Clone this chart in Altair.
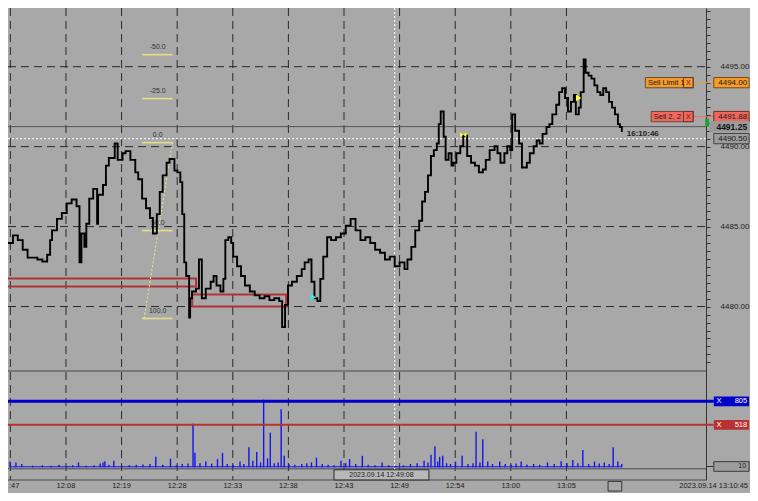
import altair as alt
import pandas as pd

# ---------------- data ----------------
tick_index = [0, 20, 40, 60, 80, 100, 120, 140, 160, 180, 200]
tick_labels = [":47", "12:08", "12:19", "12:28", "12:33", "12:38",
               "12:43", "12:49", "12:54", "13:00", "13:05"]

bar_index = [-0.85, 0.92, 2.68, 4.44, 6.20, 7.96, 9.72, 11.48, 13.24, 14.30,
             15.00, 16.76, 18.52, 20.28, 22.04, 23.80, 24.86, 25.56, 26.62, 27.32,
             28.38, 29.79, 31.20, 31.55, 33.31, 34.37, 35.42, 37.54, 38.59, 40.35,
             41.41, 43.17, 44.93, 45.99, 47.39, 48.80, 50.21, 51.27, 52.68, 53.73,
             54.79, 56.20, 57.25, 59.01, 60.07, 61.13, 61.83, 62.54, 63.24, 64.30,
             64.65, 65.35, 66.76, 67.82, 68.87, 70.28, 72.04, 73.10, 74.15, 75.56,
             76.62, 77.32, 78.38, 79.44, 80.14, 81.55, 82.96, 84.37, 86.13, 87.89,
             89.65, 91.41, 93.17, 94.93, 96.69, 97.75, 98.80, 99.86, 101.27, 103.03,
             104.79, 105.85, 107.25, 108.31, 109.37, 110.42, 111.48, 112.54, 113.94, 115.35,
             117.11, 118.87, 120.63, 122.39, 124.15, 125.92, 127.68, 129.44, 131.20, 132.96,
             134.72, 136.48, 138.24, 140.00, 141.76, 142.82, 144.23, 145.63, 147.04, 148.10,
             149.15, 150.21, 151.27, 152.32, 153.38, 154.08, 154.79, 155.85, 156.55, 157.61,
             158.66, 159.37, 160.42, 161.83, 162.89, 164.30, 165.70, 167.11, 168.52, 169.93,
             170.99, 172.39, 174.15, 175.21, 176.27, 177.68, 178.73, 179.79, 180.49, 181.55,
             182.96, 184.01, 185.77, 186.83, 188.24, 189.30, 190.35, 191.41, 192.82, 193.87,
             194.93, 196.34, 197.39, 198.45, 199.51, 200.56, 201.62, 202.68, 203.38, 204.44,
             205.14, 206.20, 206.90, 207.96, 209.01, 210.07, 211.13, 212.18, 213.24, 214.30,
             215.35, 216.41, 217.46, 218.52, 219.23, 219.93]
price = [4483.97, 4484.45, 4484.15, 4483.55, 4483.06, 4483.06, 4482.94, 4482.82, 4483.24, 4484.15,
         4484.76, 4485.48, 4485.85, 4486.45, 4486.69, 4486.27, 4482.76, 4484.57, 4483.73, 4485.18,
         4486.75, 4487.36, 4485.18, 4486.99, 4487.60, 4488.81, 4489.29, 4490.20, 4489.17, 4489.59,
         4489.72, 4489.17, 4488.39, 4487.96, 4486.75, 4486.15, 4485.54, 4484.57, 4485.78, 4487.17,
         4488.20, 4488.99, 4489.23, 4488.51, 4488.39, 4487.78, 4485.78, 4482.76, 4481.91, 4479.31,
         4480.52, 4480.94, 4481.12, 4482.94, 4480.52, 4481.12, 4481.55, 4481.91, 4481.31, 4480.94,
         4481.73, 4484.15, 4484.33, 4483.97, 4483.12, 4482.52, 4481.91, 4481.31, 4480.94, 4480.70,
         4480.52, 4480.64, 4480.40, 4480.52, 4480.34, 4478.71, 4480.10, 4481.31, 4481.55, 4481.91,
         4482.34, 4482.76, 4482.94, 4481.55, 4480.52, 4480.34, 4481.73, 4483.12, 4484.33, 4484.15,
         4484.33, 4484.57, 4485.06, 4485.48, 4484.76, 4484.15, 4484.33, 4483.97, 4483.55, 4483.36,
         4482.94, 4483.12, 4482.52, 4482.76, 4482.34, 4482.94, 4483.73, 4484.76, 4485.36, 4486.57,
         4487.17, 4488.20, 4489.41, 4489.78, 4490.20, 4491.41, 4492.20, 4490.62, 4489.17, 4489.59,
         4488.81, 4488.99, 4489.59, 4490.02, 4490.68, 4489.41, 4488.99, 4488.81, 4488.39, 4488.57,
         4489.17, 4489.78, 4490.02, 4489.59, 4488.99, 4489.59, 4490.02, 4489.78, 4492.02, 4490.99,
         4490.20, 4488.69, 4488.99, 4489.59, 4490.02, 4490.38, 4490.20, 4490.80, 4491.23, 4491.41,
         4492.02, 4492.62, 4493.41, 4493.65, 4493.04, 4492.20, 4492.80, 4493.23, 4492.02, 4492.44,
         4493.41, 4495.46, 4494.62, 4494.44, 4494.25, 4493.83, 4493.41, 4493.23, 4493.65, 4493.41,
         4492.80, 4492.44, 4492.02, 4491.41, 4491.23, 4490.92]

vol_index = [-0.1, 2.0, 4.1, 8.0, 11.5, 14.6, 17.5, 20.3, 22.4, 24.5,
             27.3, 30.1, 32.3, 33.3, 34.0, 35.4, 37.2, 40.0, 42.8, 45.3,
             47.7, 50.2, 52.3, 54.8, 57.6, 59.7, 61.8, 63.9, 65.7, 66.4,
             68.2, 70.3, 72.4, 74.5, 76.3, 78.0, 80.1, 82.6, 84.0, 85.8,
             87.2, 88.6, 90.0, 91.1, 92.5, 93.5, 94.9, 96.3, 97.4, 98.5,
             100.2, 102.3, 104.8, 106.6, 108.3, 110.1, 112.2, 114.3, 116.4, 118.9,
             120.6, 122.0, 124.2, 126.6, 128.7, 131.2, 133.7, 136.1, 138.6, 141.4,
             143.9, 146.3, 148.8, 150.2, 151.3, 152.7, 153.7, 154.4, 155.5, 156.9,
             158.3, 160.1, 162.5, 164.6, 166.4, 167.5, 168.9, 169.9, 171.7, 173.4,
             176.0, 178.0, 180.1, 181.9, 183.7, 185.8, 188.2, 190.4, 193.2, 195.6,
             198.1, 200.2, 202.3, 204.1, 205.9, 208.0, 210.1, 211.8, 213.6, 215.4,
             216.8, 218.5, 219.9]
vol_value = [70, 60, 40, 20, 25, 20, 30, 15, 25, 60,
             20, 25, 45, 60, 75, 30, 80, 20, 25, 30,
             35, 40, 128, 30, 105, 25, 40, 45, 530, 176,
             50, 70, 45, 100, 176, 40, 30, 70, 40, 246,
             80, 188, 60, 825, 110, 423, 50, 60, 707, 140,
             40, 30, 40, 50, 60, 117, 40, 30, 25, 80,
             50, 100, 40, 140, 30, 25, 60, 25, 20, 25,
             40, 50, 80, 60, 152, 258, 70, 128, 140, 50,
             40, 70, 140, 40, 50, 435, 60, 341, 70, 40,
             70, 40, 30, 45, 70, 35, 40, 30, 60, 40,
             75, 50, 90, 50, 211, 40, 70, 45, 60, 40,
             246, 70, 40]
vol_floor = 12  # thin continuous band of tiny volumes along the baseline

grid_prices = [4480, 4485, 4490, 4495]

fib_labels = ["-50.0", "-25.0", "0.0", "50.0", "100.0"]
fib_prices = [4495.75, 4493.00, 4490.25, 4484.75, 4479.25]
fib_diag_index = [58.3, 48.1]
fib_diag_price = [4490.25, 4479.25]

zone_i0 = [-3.0, 65.4]
zone_i1 = [66.8, 99.2]
zone_lo = [4481.25, 4480.00]
zone_hi = [4481.75, 4480.75]

order_labels = ["Sell Limit  1", "Sell  2,  2"]
order_prices = [4494.00, 4491.88]
order_fill = ["#f59b2c", "#f2675c"]
order_left = [228.4, 230.5]

box_texts = ["4494.00", "4491.88", "4491.25", "4490.50"]
box_prices = [4494.00, 4491.88, 4491.25, 4490.50]
box_fill = ["#f59b2c", "#f2675c", "#9a9a9a", "#9c9c9c"]
box_stroke = ["#7a4a10", "#7a2a20", "#9a9a9a", "#444444"]
box_left = [253.0, 253.0, 251.6, 253.0]
box_weight = ["normal", "normal", "bold", "normal"]

last_price = 4491.25
bid_price = 4490.50
last_time = "16:10:46"
cross_index = 138.2

marker_index = [162.9, 204.4, 109.0]
marker_price = [4490.74, 4493.04, 4480.58]
marker_color = ["#ffff33", "#ffff33", "#33e6e6"]
marker_shape = ["M-1,-0.8L1,0.8L1,-0.8L-1,0.8Z", "triangle-right", "triangle-right"]

vol_levels = [805, 518]
vol_level_colors = ["#0000cc", "#b83232"]

# ---------------- layout ----------------
FX = 742 / 758
FY = 485 / 501
W, H = 698, 472


def px(v):
    return v * FX


def py(v):
    return v * FY


XS = alt.Scale(domain=[-0.85, 250.2], nice=False, zero=False)
PS = alt.Scale(domain=[4469.15, 4498.67], nice=False, zero=False)
VS = alt.Scale(domain=[-155, 5604], nice=False, zero=False)


def xq(f="i"):
    return alt.X(f + ":Q", scale=XS, axis=None)


def yp(f="p"):
    return alt.Y(f + ":Q", scale=PS, axis=None)


def yv(f="v"):
    return alt.Y(f + ":Q", scale=VS, axis=None)


df_price = pd.DataFrame({"i": bar_index, "p": price})
df_vol = pd.DataFrame({"i": vol_index, "v": vol_value})
df_grid = pd.DataFrame({"p": grid_prices})
df_ticks = pd.DataFrame({"i": tick_index, "t": tick_labels})

layers = []

# vertical dashed time grid
layers.append(alt.Chart(df_ticks).mark_rule(color="#2a2a2a", strokeDash=[8, 5], strokeWidth=1).encode(
    x=xq(), y=alt.value(0), y2=alt.value(H)))

# horizontal dashed price grid
layers.append(alt.Chart(df_grid).mark_rule(color="#2a2a2a", strokeDash=[8, 5], strokeWidth=1).encode(
    y=yp(), x=alt.value(0), x2=alt.value(W)))

# panel separators and bottom axis line
sep = pd.DataFrame({"y": [py(375), py(476), H]})
layers.append(alt.Chart(sep).mark_rule(color="#4a4a4a", strokeWidth=1).encode(
    y=alt.Y("y:Q", scale=None, axis=None), x=alt.value(0), x2=alt.value(W)))

# time labels (the first one is cut by the left edge in the original, only ":47" shows)
layers.append(alt.Chart(df_ticks.iloc[1:]).mark_text(fontSize=7.5, color="#222222", baseline="middle").encode(
    x=xq(), y=alt.value(py(494)), text="t:N"))
layers.append(alt.Chart(df_ticks.iloc[:1]).mark_text(fontSize=7.5, color="#222222", baseline="middle",
                                                      align="left").encode(
    x=alt.value(1), y=alt.value(py(494)), text="t:N"))

# red zones
df_zone = pd.DataFrame({"i0": zone_i0, "i1": zone_i1, "lo": zone_lo, "hi": zone_hi})
layers.append(alt.Chart(df_zone).mark_rect(fillOpacity=0, stroke="#b03434", strokeWidth=2, clip=True).encode(
    x=xq("i0"), x2="i1:Q", y=yp("lo"), y2="hi:Q"))

# fibonacci tool
df_fib = pd.DataFrame({"p": fib_prices, "t": fib_labels, "i0": 47.4, "i1": 58.3, "ic": 53.0})
layers.append(alt.Chart(df_fib).mark_rule(color="#e4df86", strokeWidth=1.6).encode(
    x=xq("i0"), x2="i1:Q", y=yp()))
layers.append(alt.Chart(df_fib).mark_text(fontSize=7, color="#333333", dy=-5, baseline="bottom").encode(
    x=xq("ic"), y=yp(), text="t:N"))
df_diag = pd.DataFrame({"i": fib_diag_index, "p": fib_diag_price})
layers.append(alt.Chart(df_diag).mark_line(color="#eeea90", strokeDash=[2, 2], strokeWidth=1).encode(
    x=xq(), y=yp()))

# last price line and bid dotted line, crosshair
df_last = pd.DataFrame({"p": [last_price]})
layers.append(alt.Chart(df_last).mark_rule(color="#555555", strokeWidth=1).encode(
    y=yp(), x=alt.value(0), x2=alt.value(W)))
df_bid = pd.DataFrame({"p": [bid_price]})
layers.append(alt.Chart(df_bid).mark_rule(color="#f2f2f2", strokeWidth=1.2, strokeDash=[2, 2]).encode(
    y=yp(), x=alt.value(0), x2=alt.value(W)))
df_cross = pd.DataFrame({"i": [cross_index]})
layers.append(alt.Chart(df_cross).mark_rule(color="#f2f2f2", strokeWidth=1.2, strokeDash=[2, 2]).encode(
    x=xq(), y=alt.value(0), y2=alt.value(H)))

# price line with right price axis
price_ticks = [4476.5 + 0.5 * k for k in range(45)]
layers.append(alt.Chart(df_price).mark_line(interpolate="step-after", color="black", strokeWidth=1.9).encode(
    x=xq(),
    y=alt.Y("p:Q", scale=PS, axis=alt.Axis(
        orient="right", values=price_ticks,
        labelExpr="datum.value % 5 == 0 ? format(datum.value, '.2f') : ''",
        tickSize=4, tickColor="#333333", domainColor="#333333", labelAlign="right", labelPadding=39,
        labelFontSize=8, labelColor="#222222", grid=False, title=None, labelFlush=False,
        labelOverlap=False))))

# markers
df_mk = pd.DataFrame({"i": marker_index, "p": marker_price, "c": marker_color, "s": marker_shape})
layers.append(alt.Chart(df_mk).mark_point(filled=True, size=40, opacity=1).encode(
    x=xq(), y=yp(), color=alt.Color("c:N", scale=None), shape=alt.Shape("s:N", scale=None)))

# last-time label
df_lt = pd.DataFrame({"i": [221.7], "p": [4490.80], "t": [last_time]})
layers.append(alt.Chart(df_lt).mark_text(fontSize=8, fontWeight="bold", color="#222222", align="left").encode(
    x=xq(), y=yp(), text="t:N"))

# order labels (left boxes)
df_ord = pd.DataFrame({"t": order_labels, "p": order_prices, "f": order_fill, "i0": order_left})
df_ord["lo"] = df_ord["p"] - 0.32
df_ord["hi"] = df_ord["p"] + 0.32
df_ord["i1"] = 245.6
df_ord["ix"] = 242.1
df_ord["ir"] = 253.0
df_ord["it"] = df_ord["i0"] + 0.9
df_ord["ixc"] = 243.85
layers.append(alt.Chart(df_ord).mark_rule(strokeWidth=1).encode(
    x=xq("i1"), x2="ir:Q", y=yp(), color=alt.Color("f:N", scale=None)))
layers.append(alt.Chart(df_ord).mark_rect(stroke="#6a4a30", strokeWidth=1).encode(
    x=xq("i0"), x2="i1:Q", y=yp("lo"), y2="hi:Q", color=alt.Color("f:N", scale=None)))
layers.append(alt.Chart(df_ord).mark_rect(fillOpacity=0, stroke="#6a3a30", strokeWidth=1).encode(
    x=xq("ix"), x2="i1:Q", y=yp("lo"), y2="hi:Q"))
layers.append(alt.Chart(df_ord).mark_text(fontSize=7.5, color="#1a1a1a", align="left").encode(
    x=xq("it"), y=yp(), text="t:N"))
layers.append(alt.Chart(df_ord).mark_text(fontSize=7, color="#5a1a10", align="center", text="X").encode(
    x=xq("ixc"), y=yp()))

# right price boxes
df_box = pd.DataFrame({"t": box_texts, "p": box_prices, "f": box_fill, "s": box_stroke,
                       "i0": box_left, "w": box_weight})
df_box["lo"] = df_box["p"] - 0.32
df_box["hi"] = df_box["p"] + 0.32
df_box["i1"] = 265.7
df_box["it"] = 265.0
layers.append(alt.Chart(df_box).mark_rect(strokeWidth=1).encode(
    x=xq("i0"), x2="i1:Q", y=yp("lo"), y2="hi:Q",
    color=alt.Color("f:N", scale=None), stroke=alt.Stroke("s:N", scale=None)))
df_box_n = df_box[df_box["w"] == "normal"]
df_box_b = df_box[df_box["w"] == "bold"]
layers.append(alt.Chart(df_box_n).mark_text(fontSize=8, color="#1a1a1a", align="right").encode(
    x=xq("it"), y=yp(), text="t:N"))
layers.append(alt.Chart(df_box_b).mark_text(fontSize=8.5, fontWeight="bold", color="#111111", align="right").encode(
    x=xq("it"), y=yp(), text="t:N"))

# green position marker
df_green = pd.DataFrame({"i0": [249.9], "i1": [251.3], "lo": [4491.25], "hi": [4491.75]})
layers.append(alt.Chart(df_green).mark_rect(color="#1f9e3a").encode(
    x=xq("i0"), x2="i1:Q", y=yp("lo"), y2="hi:Q"))

# volume: baseline band of tiny bars + bars
df_floor = pd.DataFrame({"i0": [min(vol_index)], "i1": [max(vol_index)], "v": [vol_floor]})
layers.append(alt.Chart(df_floor).mark_rect(color="#1414ee").encode(
    x=xq("i0"), x2="i1:Q", y=yv(), y2=alt.datum(0)))
layers.append(alt.Chart(df_vol).mark_rule(color="#1414ee", strokeWidth=1.4).encode(
    x=xq(), y=yv(), y2=alt.datum(0)))

# volume alert lines
df_vl = pd.DataFrame({"v": vol_levels, "c": vol_level_colors, "t": [str(v) for v in vol_levels]})
df_vl["lo"] = df_vl["v"] - 59
df_vl["hi"] = df_vl["v"] + 59
df_vl["i0"] = 253.0
df_vl["i1"] = 265.7
df_vl["ix"] = 254.0
df_vl["it"] = 265.0
df_vl["w"] = [3, 2]
layers.append(alt.Chart(df_vl).mark_rule().encode(
    y=yv(), x=alt.value(0), x2=alt.value(px(721)), color=alt.Color("c:N", scale=None),
    strokeWidth=alt.StrokeWidth("w:Q", scale=None)))
layers.append(alt.Chart(df_vl).mark_rect().encode(
    x=xq("i0"), x2="i1:Q", y=yv("lo"), y2="hi:Q", color=alt.Color("c:N", scale=None)))
layers.append(alt.Chart(df_vl).mark_text(fontSize=7.5, color="white", align="left", text="X").encode(
    x=xq("ix"), y=yv()))
layers.append(alt.Chart(df_vl).mark_text(fontSize=7.5, color="white", align="right").encode(
    x=xq("it"), y=yv(), text="t:N"))

# current volume box "10"
df_cv = pd.DataFrame({"v": [10], "lo": [-49], "hi": [69], "i0": [253.0], "i1": [265.7],
                      "it": [264.6], "ia": [250.2], "ib": [252.8], "t": ["10"]})
layers.append(alt.Chart(df_cv).mark_rule(color="#333333").encode(
    x=xq("ia"), x2="ib:Q", y=yv()))
layers.append(alt.Chart(df_cv).mark_rect(color="#9c9c9c", stroke="#3a3a3a", strokeWidth=1).encode(
    x=xq("i0"), x2="i1:Q", y=yv("lo"), y2="hi:Q"))
layers.append(alt.Chart(df_cv).mark_text(fontSize=7, color="#222222", align="right").encode(
    x=xq("it"), y=yv(), text="t:N"))

# bottom chrome: crosshair time box, end timestamp, scroll box
df_ts = pd.DataFrame({"t": ["2023.09.14 12:49:08"]})
layers.append(alt.Chart(df_ts).mark_rect(color="#b8b8b8", stroke="#2a2a2a", strokeWidth=1).encode(
    x=alt.value(px(333)), x2=alt.value(px(430)), y=alt.value(py(477)), y2=alt.value(py(487.5))))
layers.append(alt.Chart(df_ts).mark_text(fontSize=7, color="#222222").encode(
    x=alt.value(px(381.5)), y=alt.value(py(482.5)), text="t:N"))
df_end = pd.DataFrame({"t": ["2023.09.14 13:10:45"]})
layers.append(alt.Chart(df_end).mark_text(fontSize=7.5, color="#222222", align="right").encode(
    x=alt.value(px(756)), y=alt.value(py(494)), text="t:N"))
layers.append(alt.Chart(df_end).mark_rect(fillOpacity=0, stroke="#333333", strokeWidth=1).encode(
    x=alt.value(px(613)), x2=alt.value(px(627)), y=alt.value(py(489)), y2=alt.value(py(499))))

chart = alt.layer(*layers).resolve_scale(y="independent").properties(
    width=W, height=H,
    autosize=alt.AutoSizeParams(type="none"),
    padding={"left": 0, "top": 0, "right": 44, "bottom": 13},
    background="#a8a8a8",
).configure(font="Liberation Sans", view=alt.ViewConfig(stroke=None))

chart.save("out.html", embed_options={"renderer": "svg", "actions": False})
